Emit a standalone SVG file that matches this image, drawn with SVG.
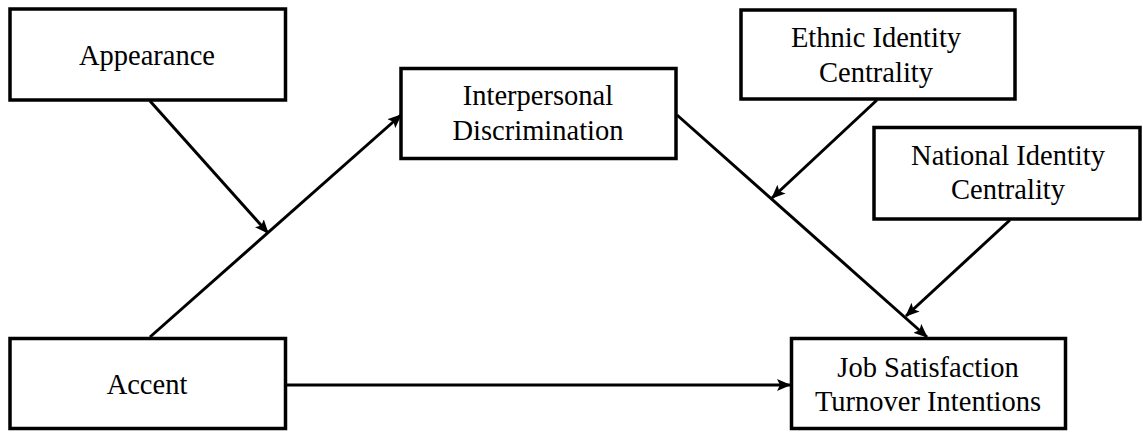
<svg xmlns="http://www.w3.org/2000/svg" width="1143" height="432" viewBox="0 0 1143 432">
<style>
.box{fill:#fff;stroke:#000;stroke-width:3.5}
.lbl{font-family:"Liberation Serif","Times New Roman",serif;font-size:28.5px;fill:#000;text-anchor:middle}
.edge{stroke:#000;stroke-width:3;fill:none;marker-end:url(#ah)}
</style>
<defs>
<marker id="ah" markerUnits="userSpaceOnUse" markerWidth="14" markerHeight="12" viewBox="0 0 14 12" refX="13" refY="6" orient="auto">
<path d="M0,0 L14,6 L0,12 L3,6 Z" fill="#000"/>
</marker>
</defs>
<rect width="1143" height="432" fill="#fff"/>
<g id="connectors">
<line class="edge" x1="150" y1="337" x2="401" y2="115"/>
<line class="edge" x1="150" y1="101" x2="268" y2="233"/>
<line class="edge" x1="677" y1="115" x2="927" y2="337"/>
<line class="edge" x1="877" y1="100" x2="772" y2="198"/>
<line class="edge" x1="1010" y1="220" x2="906" y2="316"/>
<line class="edge" x1="287" y1="385" x2="790" y2="385"/>
</g>
<g id="appearance">
<rect class="box" x="10" y="9" width="275.5" height="91"/>
<text class="lbl" x="147" y="65">Appearance</text>
</g>
<g id="interpersonal">
<rect class="box" x="401" y="68.5" width="275" height="90"/>
<text class="lbl" x="538" y="105">Interpersonal</text>
<text class="lbl" x="538" y="140">Discrimination</text>
</g>
<g id="ethnic">
<rect class="box" x="741" y="10" width="274" height="89"/>
<text class="lbl" x="876" y="47">Ethnic Identity</text>
<text class="lbl" x="876" y="82">Centrality</text>
</g>
<g id="national">
<rect class="box" x="874" y="127.5" width="266" height="91.5"/>
<text class="lbl" x="1008" y="165">National Identity</text>
<text class="lbl" x="1008" y="199">Centrality</text>
</g>
<g id="accent">
<rect class="box" x="10" y="338.5" width="275.5" height="90"/>
<text class="lbl" x="147" y="394">Accent</text>
</g>
<g id="outcome">
<rect class="box" x="791.5" y="338.5" width="274" height="90"/>
<text class="lbl" x="928" y="377">Job Satisfaction</text>
<text class="lbl" x="928" y="411">Turnover Intentions</text>
</g>
</svg>
